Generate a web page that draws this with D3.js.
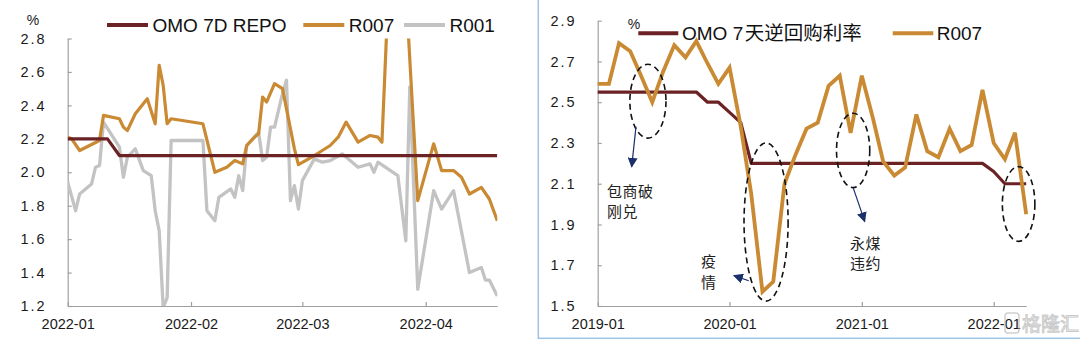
<!DOCTYPE html>
<html><head><meta charset="utf-8">
<script src="https://cdn.jsdelivr.net/npm/d3@7"></script>
<style>
html,body{margin:0;padding:0;background:#fff;}
svg{display:block;}
text{font-family:"Liberation Sans",Arial,sans-serif;}
.cjk{font-family:"Noto Sans CJK SC","Liberation Sans",sans-serif;}
</style></head>
<body>
<svg id="chart" width="1080" height="341"></svg>
<script>
// ---------------- LEFT PANEL DATA (daily, 2022) ----------------
const leftTicks = ["2022-01-04","2022-02-04","2022-03-04","2022-04-04"];
const leftYTicks = [1.2,1.4,1.6,1.8,2.0,2.2,2.4,2.6,2.8];
const omoDailyDates = ["2022-01-04","2022-01-14","2022-01-17","2022-04-22"];
const omoDailyValues = [2.2,2.2,2.1,2.1];
const r007DailyDates = ["2022-01-04","2022-01-05","2022-01-07","2022-01-12","2022-01-13","2022-01-17","2022-01-18","2022-01-19","2022-01-21","2022-01-24","2022-01-26","2022-01-27","2022-01-28","2022-01-29","2022-01-30","2022-02-07","2022-02-10","2022-02-13","2022-02-15","2022-02-17","2022-02-18","2022-02-20","2022-02-21","2022-02-22","2022-02-23","2022-02-25","2022-02-27","2022-03-02","2022-03-03","2022-03-07","2022-03-09","2022-03-11","2022-03-13","2022-03-15","2022-03-18","2022-03-21","2022-03-23","2022-03-24","2022-03-26","2022-03-28","2022-03-30","2022-04-02","2022-04-06","2022-04-08","2022-04-11","2022-04-13","2022-04-15","2022-04-18","2022-04-20","2022-04-22"];
const r007DailyValues = [2.21,2.20,2.13,2.19,2.34,2.32,2.27,2.25,2.35,2.44,2.29,2.64,2.52,2.29,2.32,2.29,2.00,2.03,2.07,2.05,2.16,2.21,2.23,2.45,2.42,2.53,2.50,2.14,2.045,2.10,2.13,2.16,2.21,2.30,2.18,2.22,2.21,2.18,3.30,3.30,3.10,1.83,2.17,2.01,2.01,1.97,1.87,1.91,1.84,1.71];
const r001DailyDates = ["2022-01-04","2022-01-06","2022-01-07","2022-01-10","2022-01-11","2022-01-12","2022-01-13","2022-01-17","2022-01-18","2022-01-19","2022-01-21","2022-01-23","2022-01-25","2022-01-26","2022-01-27","2022-01-28","2022-01-29","2022-01-30","2022-02-07","2022-02-08","2022-02-10","2022-02-11","2022-02-14","2022-02-15","2022-02-16","2022-02-17","2022-02-18","2022-02-21","2022-02-22","2022-02-23","2022-02-24","2022-02-25","2022-02-27","2022-02-28","2022-03-01","2022-03-02","2022-03-03","2022-03-04","2022-03-07","2022-03-09","2022-03-11","2022-03-14","2022-03-18","2022-03-21","2022-03-22","2022-03-23","2022-03-28","2022-03-30","2022-03-31","2022-04-02","2022-04-06","2022-04-08","2022-04-11","2022-04-15","2022-04-18","2022-04-19","2022-04-20","2022-04-22"];
const r001DailyValues = [1.94,1.77,1.87,1.93,2.03,2.04,2.30,2.15,1.97,2.09,2.14,2.01,1.98,1.77,1.65,1.19,1.25,2.19,2.19,1.77,1.71,1.85,1.90,1.85,1.98,1.89,2.16,2.24,2.07,2.09,2.27,2.27,2.47,2.55,1.83,1.92,1.78,1.95,2.08,2.06,2.07,2.11,2.03,2.05,2.00,2.06,1.98,1.59,2.51,1.30,1.89,1.78,1.89,1.40,1.43,1.355,1.355,1.26];

// ---------------- RIGHT PANEL DATA (monthly) ----------------
const months = ["2019-01","2019-02","2019-03","2019-04","2019-05","2019-06","2019-07","2019-08","2019-09","2019-10","2019-11","2019-12",
"2020-01","2020-02","2020-03","2020-04","2020-05","2020-06","2020-07","2020-08","2020-09","2020-10","2020-11","2020-12",
"2021-01","2021-02","2021-03","2021-04","2021-05","2021-06","2021-07","2021-08","2021-09","2021-10","2021-11","2021-12",
"2022-01","2022-02","2022-03","2022-04"];
const omoMonthly = [2.55,2.55,2.55,2.55,2.55,2.55,2.55,2.55,2.55,2.55,2.50,2.50,2.45,2.40,2.20,2.20,2.20,2.20,2.20,2.20,2.20,2.20,2.20,2.20,2.20,2.20,2.20,2.20,2.20,2.20,2.20,2.20,2.20,2.20,2.20,2.20,2.16,2.10,2.10,2.10];
const r007Monthly = [2.59,2.59,2.79,2.75,2.63,2.50,2.65,2.78,2.72,2.80,2.69,2.59,2.67,2.38,2.05,1.57,1.62,2.10,2.24,2.37,2.40,2.58,2.63,2.35,2.63,2.42,2.21,2.14,2.18,2.44,2.26,2.23,2.37,2.26,2.29,2.56,2.30,2.22,2.35,1.95];
const rightTicks = ["2019-01","2020-01","2021-01","2022-01"];
const rightYTicks = [1.5,1.7,1.9,2.1,2.3,2.5,2.7,2.9];

// annotations (data coordinates)
const ellipses = [
  {d0:"2019-03-31", d1:"2019-07-09", v0:2.686, v1:2.324},
  {d0:"2020-02-10", d1:"2020-06-11", v0:2.300, v1:1.524},
  {d0:"2020-10-23", d1:"2021-01-23", v0:2.446, v1:2.081},
  {d0:"2022-01-25", d1:"2022-04-25", v0:2.184, v1:1.817}
];
const arrows = [
  {d0:"2019-04-17", v0:2.38, d1:"2019-04-05", v1:2.183},
  {d0:"2020-02-23", v0:1.624, d1:"2020-01-13", v1:1.649},
  {d0:"2020-12-08", v0:2.081, d1:"2021-01-09", v1:1.915}
];
const notes = [
  {d:"2019-01-27", v:[2.036,1.938], lines:["包商破","刚兑"]},
  {d:"2019-10-14", v:[1.692,1.589], lines:["疫","情"]},
  {d:"2020-11-29", v:[1.781,1.683], lines:["永煤","违约"]}
];

// ---------------- STYLES ----------------
const C_OMO = "#6B2224", C_R007 = "#C98A33", C_R001 = "#C3C3C3", C_AX = "#A0A0A0", C_TXT = "#1a1a1a", C_NAVY = "#1B2F6B";

const svg = d3.select("#chart");
const pDay = d3.timeParse("%Y-%m-%d");
const pMon = d3.timeParse("%Y-%m");

svg.append("defs").append("marker")
  .attr("id","ah").attr("viewBox","0 0 10 10").attr("refX",9).attr("refY",5)
  .attr("markerWidth",10).attr("markerHeight",10).attr("markerUnits","userSpaceOnUse")
  .attr("orient","auto")
  .append("path").attr("d","M0,0 L10,5 L0,10 Z").attr("fill",C_NAVY);

function styleAxis(g){
  g.selectAll(".domain").attr("stroke",C_AX).attr("stroke-width",1.2);
  g.selectAll(".tick line").attr("stroke",C_AX).attr("stroke-width",1.2);
  g.selectAll("text").attr("fill",C_TXT).style("font-family",'"Liberation Sans",Arial,sans-serif');
}

// ================= LEFT =================
const xL = d3.scaleTime().domain([pDay("2022-01-04"), pDay("2022-04-22")]).range([67.7, 497.3]);
const yL = d3.scaleLinear().domain([1.2, 2.8]).range([306, 38.5]);

svg.append("clipPath").attr("id","clipL").append("rect")
  .attr("x",xL.range()[0]).attr("y",yL(2.8)).attr("width",xL.range()[1]-xL.range()[0]).attr("height",yL(1.2)-yL(2.8));

const gxL = svg.append("g").attr("transform",`translate(0,${yL(1.2)})`)
  .call(d3.axisBottom(xL).tickValues(leftTicks.map(pDay)).tickFormat(d3.timeFormat("%Y-%m")).tickSizeInner(-4).tickSizeOuter(0).tickPadding(13));
gxL.selectAll("text").style("font-size","14.5px");
styleAxis(gxL);
const gyL = svg.append("g").attr("transform",`translate(${xL.range()[0]},0)`)
  .call(d3.axisLeft(yL).tickValues(leftYTicks).tickFormat(d3.format(".1f")).tickSizeInner(-4).tickSizeOuter(0).tickPadding(21));
gyL.selectAll("text").style("font-size","14.5px").style("letter-spacing","2px");
styleAxis(gyL);

svg.append("text").attr("x",33).attr("y",25).attr("text-anchor","middle").attr("fill",C_TXT).style("font-size","14px").text("%");

const lineL = (dates, vals) => d3.line().x((d,i)=>xL(pDay(dates[i]))).y((d,i)=>yL(vals[i]))(vals);
const plotL = svg.append("g").attr("clip-path","url(#clipL)");
plotL.append("path").attr("d",lineL(r001DailyDates,r001DailyValues)).attr("fill","none").attr("stroke",C_R001).attr("stroke-width",3.3).attr("stroke-linejoin","round");
plotL.append("path").attr("d",lineL(r007DailyDates,r007DailyValues)).attr("fill","none").attr("stroke",C_R007).attr("stroke-width",3.2).attr("stroke-linejoin","round");
plotL.append("path").attr("d",lineL(omoDailyDates,omoDailyValues)).attr("fill","none").attr("stroke",C_OMO).attr("stroke-width",3.2).attr("stroke-linejoin","round");

// legend left
const legL = [
  {name:"OMO 7D REPO", c:C_OMO, x:107},
  {name:"R007", c:C_R007, x:303.3},
  {name:"R001", c:C_R001, x:404}
];
legL.forEach(l=>{
  svg.append("line").attr("x1",l.x).attr("x2",l.x+41).attr("y1",25).attr("y2",25).attr("stroke",l.c).attr("stroke-width",4);
  svg.append("text").attr("x",l.x+45.5).attr("y",31.8).attr("fill","#111").style("font-size","19px").text(l.name);
});

// ================= RIGHT =================
svg.append("rect").attr("x",538.3).attr("y",-5).attr("width",600).attr("height",343.3)
  .attr("fill","none").attr("stroke","#9DC3E6").attr("stroke-width",1.5);

const xR = d3.scaleTime().domain([pMon("2019-01"), pMon("2022-04")]).range([597.7, 1026.2]);
const yR = d3.scaleLinear().domain([1.5, 2.9]).range([306, 20.7]);

const gxR = svg.append("g").attr("transform",`translate(0,${yR(1.5)})`)
  .call(d3.axisBottom(xR).tickValues(rightTicks.map(pMon)).tickFormat(d3.timeFormat("%Y-%m")).tickSizeInner(-4).tickSizeOuter(0).tickPadding(13));
gxR.selectAll("text").style("font-size","14.5px");
styleAxis(gxR);
const gyR = svg.append("g").attr("transform",`translate(${xR.range()[0]},0)`)
  .call(d3.axisLeft(yR).tickValues(rightYTicks).tickFormat(d3.format(".1f")).tickSizeInner(-4).tickSizeOuter(0).tickPadding(21));
gyR.selectAll("text").style("font-size","14.5px").style("letter-spacing","2px");
styleAxis(gyR);

const lineR = vals => d3.line().x((d,i)=>xR(pMon(months[i]))).y(d=>yR(d))(vals);
svg.append("path").attr("d",lineR(omoMonthly)).attr("fill","none").attr("stroke",C_OMO).attr("stroke-width",3.2).attr("stroke-linejoin","round");
svg.append("path").attr("d",lineR(r007Monthly)).attr("fill","none").attr("stroke",C_R007).attr("stroke-width",3.8).attr("stroke-linejoin","miter");

// legend right
svg.append("text").attr("x",634).attr("y",29).attr("text-anchor","middle").attr("fill",C_TXT).style("font-size","14px").text("%");
svg.append("line").attr("x1",638.3).attr("x2",678.3).attr("y1",33.3).attr("y2",33.3).attr("stroke",C_OMO).attr("stroke-width",4);
const tOmo = svg.append("text").attr("x",682).attr("y",40).attr("fill","#111").style("font-size","19px");
tOmo.append("tspan").text("OMO 7");
tOmo.append("tspan").attr("class","cjk").style("font-size","19.5px").attr("dx",1.5).text("天逆回购利率");
svg.append("line").attr("x1",892.7).attr("x2",933.3).attr("y1",33.3).attr("y2",33.3).attr("stroke",C_R007).attr("stroke-width",4);
svg.append("text").attr("x",936.7).attr("y",40).attr("fill","#111").style("font-size","19px").text("R007");

// annotations
ellipses.forEach(e=>{
  const x0 = xR(pDay(e.d0)), x1 = xR(pDay(e.d1)), y0 = yR(e.v0), y1 = yR(e.v1);
  svg.append("ellipse").attr("cx",(x0+x1)/2).attr("cy",(y0+y1)/2).attr("rx",(x1-x0)/2).attr("ry",(y1-y0)/2)
    .attr("fill","none").attr("stroke","#111").attr("stroke-width",1.6).attr("stroke-dasharray","6,4");
});
arrows.forEach(a=>{
  svg.append("line").attr("x1",xR(pDay(a.d0))).attr("y1",yR(a.v0)).attr("x2",xR(pDay(a.d1))).attr("y2",yR(a.v1))
    .attr("stroke",C_NAVY).attr("stroke-width",1.2).attr("marker-end","url(#ah)");
});
notes.forEach(n=>{
  n.lines.forEach((s,i)=>{
    svg.append("text").attr("class","cjk").attr("x",xR(pDay(n.d))).attr("y",yR(n.v[i]))
      .attr("fill","#222").style("font-size","15px").style("letter-spacing","0.5px").text(s);
  });
});

// watermark
const wm = svg.append("g").attr("opacity",0.7);
wm.append("rect").attr("x",1005).attr("y",313).attr("width",14).attr("height",20).attr("rx",3)
  .attr("fill","none").attr("stroke","#bbb").attr("stroke-width",1.5);
wm.append("text").attr("class","cjk").attr("x",1022).attr("y",331).attr("fill","#fff").attr("stroke","#b5b5b5").attr("stroke-width",1)
  .style("font-size","19px").text("格隆汇");
</script>
</body></html>
